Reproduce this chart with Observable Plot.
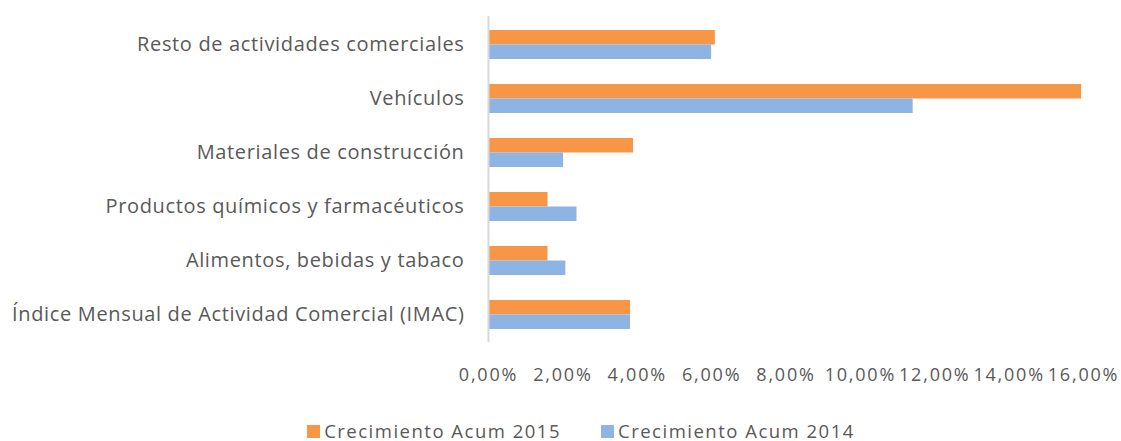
<!DOCTYPE html>
<html>
<head>
<meta charset="utf-8">
<script src="https://cdn.jsdelivr.net/npm/d3@7"></script>
<script src="https://cdn.jsdelivr.net/npm/@observablehq/plot@0.6"></script>
<style>
  body { margin: 0; background: #fff; font-family: "Open Sans", sans-serif; }
  #chart svg g[aria-label="y-axis tick label"] text { letter-spacing: 0.65px; }
  #chart svg g[aria-label="x-axis tick label"] text { letter-spacing: 1.8px; }
  #legend { display: flex; justify-content: center; gap: 40px; color: #595959; font-size: 18.5px; letter-spacing: 1.5px; line-height: 20px; margin-top: 21px; padding-left: 41px; }
  #legend span.item { display: flex; align-items: center; gap: 4px; white-space: nowrap; }
  #legend span.sw { width: 13px; height: 13px; display: inline-block; }
</style>
</head>
<body>
<div id="chart"></div>
<script>
const categories = [
  "Resto de actividades comerciales",
  "Vehículos",
  "Materiales de construcción",
  "Productos químicos y farmacéuticos",
  "Alimentos, bebidas y tabaco",
  "Índice Mensual de Actividad Comercial (IMAC)"
];
const series = ["Crecimiento Acum 2015", "Crecimiento Acum 2014"];
const values2015 = [6.1, 15.95, 3.9, 1.6, 1.6, 3.82];
const values2014 = [6.0, 11.42, 2.02, 2.38, 2.08, 3.82];
const xTicks = [0, 2, 4, 6, 8, 10, 12, 14, 16];
const colors = ["#F79646", "#8EB4E3"];

const data2015 = categories.map((c, i) => ({category: c, value: values2015[i]}));
const data2014 = categories.map((c, i) => ({category: c, value: values2014[i]}));

const fmt = d => d.toFixed(2).replace(".", ",") + "%";

const chart = Plot.plot({
  width: 1121,
  height: 400,
  marginLeft: 488,
  marginRight: 38,
  marginTop: 16,
  marginBottom: 58,
  style: {fontFamily: "Open Sans, sans-serif", color: "#595959", background: "#fff"},
  x: {domain: [0, 16], label: null},
  y: {domain: categories, paddingInner: 0.466, paddingOuter: 0.235, label: null},
  marks: [
    Plot.barX(data2015, {y: "category", x: "value", fill: colors[0], insetBottom: 14.5}),
    Plot.barX(data2014, {y: "category", x: "value", fill: colors[1], insetTop: 14.5}),
    Plot.ruleX([0], {stroke: "#d9d9d9", strokeWidth: 2}),
    Plot.axisY({tickSize: 0, tickPadding: 24, fontSize: 20, label: null}),
    Plot.axisX({ticks: xTicks, tickFormat: fmt, tickSize: 0, tickPadding: 26, fontSize: 18, label: null})
  ]
});
document.getElementById("chart").appendChild(chart);

const legend = document.createElement("div");
legend.id = "legend";
series.forEach((s, i) => {
  const item = document.createElement("span");
  item.className = "item";
  const sw = document.createElement("span");
  sw.className = "sw";
  sw.style.background = colors[i];
  item.appendChild(sw);
  item.appendChild(document.createTextNode(s));
  legend.appendChild(item);
});
document.body.appendChild(legend);
</script>
</body>
</html>
